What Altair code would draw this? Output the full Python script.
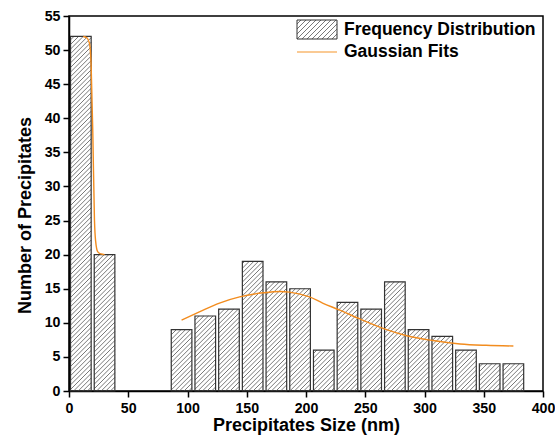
import altair as alt
import pandas as pd
import numpy as np

# ---- data ----
bin_centers = [10, 30, 95, 115, 135, 155, 175, 195, 215, 235, 255, 275, 295, 315, 335, 355, 375]
counts = [52, 20, 9, 11, 12, 19, 16, 15, 6, 13, 12, 16, 9, 8, 6, 4, 4]

fit1_x = [12, 15, 17.3, 18.7, 20.1, 21.5, 22.4, 24.3, 27, 30]
fit1_y = [52, 51.8, 51, 47.6, 37.8, 25, 22.1, 20.4, 20.1, 20.0]
fit2_x = [95, 110, 127, 144, 164, 178, 186, 203, 214, 228, 245, 268, 285, 307, 330, 352, 375]
fit2_y = [10.4, 11.6, 12.9, 13.8, 14.4, 14.6, 14.5, 13.8, 12.9, 11.9, 10.6, 9.0, 8.1, 7.4, 6.9, 6.7, 6.6]

x_ticks = [0, 50, 100, 150, 200, 250, 300, 350, 400]
y_ticks = [0, 5, 10, 15, 20, 25, 30, 35, 40, 45, 50, 55]

# ---- layout constants ----
W, H = 474, 375
XMAX, YMAX = 400, 55
HALF = 8.7          # half bar width in data units
SP = 4.6            # hatch spacing in px
sx, sy = W / XMAX, H / YMAX

bars = pd.DataFrame({"c": bin_centers, "n": counts})

# hatch segments computed from bar geometry
segs = []
for c, n in zip(bin_centers, counts):
    U0, U1, Hh = (c - HALF) * sx, (c + HALF) * sx, n * sy
    k0 = int(np.floor((U0 - Hh) / SP)) - 1
    k1 = int(np.ceil(U1 / SP)) + 1
    for k in range(k0, k1 + 1):
        off = k * SP
        ua, ub = max(U0, off), min(U1, off + Hh)
        if ub - ua > 0.3:
            segs.append({"x": ua / sx, "y": (ua - off) / sy, "x2": ub / sx, "y2": (ub - off) / sy})
hatch = pd.DataFrame(segs)

fit = pd.concat([
    pd.DataFrame({"x": fit1_x, "y": fit1_y, "seg": "a"}),
    pd.DataFrame({"x": fit2_x, "y": fit2_y, "seg": "b"}),
])

xs = alt.Scale(domain=[0, XMAX], nice=False)
ys = alt.Scale(domain=[0, YMAX], nice=False)
xax = alt.Axis(title="Precipitates Size (nm)", values=x_ticks)
yax = alt.Axis(title="Number of Precipitates", values=y_ticks, titleY=199)
FONT = "Liberation Sans"

hatch_layer = alt.Chart(hatch).mark_rule(color="#555", strokeWidth=0.8).encode(
    x=alt.X("x:Q", scale=xs, axis=xax),
    y=alt.Y("y:Q", scale=ys, axis=yax),
    x2="x2:Q", y2="y2:Q",
)

bar_layer = alt.Chart(bars).transform_calculate(
    lo=f"datum.c - {HALF}", hi=f"datum.c + {HALF}"
).mark_bar(fillOpacity=0, stroke="#333", strokeWidth=1.2).encode(
    x=alt.X("lo:Q", scale=xs, axis=xax), x2="hi:Q",
    y=alt.Y("n:Q", scale=ys, axis=yax), y2=alt.datum(0),
)

fit_layer = alt.Chart(fit).mark_line(color="#F28C1E", strokeWidth=1.4, interpolate="monotone").encode(
    x=alt.X("x:Q", scale=xs, axis=xax), y=alt.Y("y:Q", scale=ys, axis=yax), detail="seg:N",
)

# legend (pixel space)
LX0, LX1, LY0, LY1 = 228, 268, 4, 23
lsegs = []
for k in range(-6, 12):
    off = LX0 + k * 5.0
    ua, ub = max(LX0, off), min(LX1, off + (LY1 - LY0))
    if ub - ua > 0.3:
        lsegs.append({"x": ua, "y": LY1 - (ua - off), "x2": ub, "y2": LY1 - (ub - off)})
leg_hatch = alt.Chart(pd.DataFrame(lsegs)).mark_rule(color="#555", strokeWidth=0.8).encode(
    x=alt.X("x:Q", scale=None), y=alt.Y("y:Q", scale=None),
    x2="x2:Q", y2="y2:Q",
)
leg_box = alt.Chart(pd.DataFrame({"a": [0]})).mark_rect(fillOpacity=0, stroke="#333", strokeWidth=1).encode(
    x=alt.value(LX0), x2=alt.value(LX1), y=alt.value(LY0), y2=alt.value(LY1),
)
leg_line = alt.Chart(pd.DataFrame({"a": [0]})).mark_rule(color="#F8B870", strokeWidth=1.6).encode(
    x=alt.value(LX0), x2=alt.value(LX1), y=alt.value(36),
)
leg_text = alt.Chart(pd.DataFrame({"t": ["Frequency Distribution", "Gaussian Fits"], "yy": [14, 36]})).mark_text(
    align="left", baseline="middle", fontSize=17.5, fontWeight="bold", font=FONT, color="black"
).encode(
    x=alt.value(275), y=alt.Y("yy:Q", scale=None), text="t:N",
)

chart = alt.layer(hatch_layer, bar_layer, fit_layer, leg_hatch, leg_box, leg_line, leg_text).properties(
    width=W, height=H,
    autosize=alt.AutoSizeParams(type="none"),
    padding={"left": 69, "top": 16, "right": 12, "bottom": 55},
).configure_view(
    stroke="black", strokeWidth=1.5
).configure_axis(
    grid=False, domainColor="black", domainWidth=1.5, tickColor="black", tickWidth=1.5, tickSize=6,
    labelFont=FONT, labelFontSize=14.2, labelFontWeight="bold", labelColor="black",
    titleFont=FONT, titleFontSize=18, titleFontWeight="bold", titleColor="black",
    labelFlush=False, labelOverlap=False,
).configure_axisY(
    titlePadding=10, labelPadding=3,
).configure_axisX(
    titlePadding=1, labelPadding=4,
)

chart.save("out.html", embed_options={"renderer": "svg", "actions": False})
